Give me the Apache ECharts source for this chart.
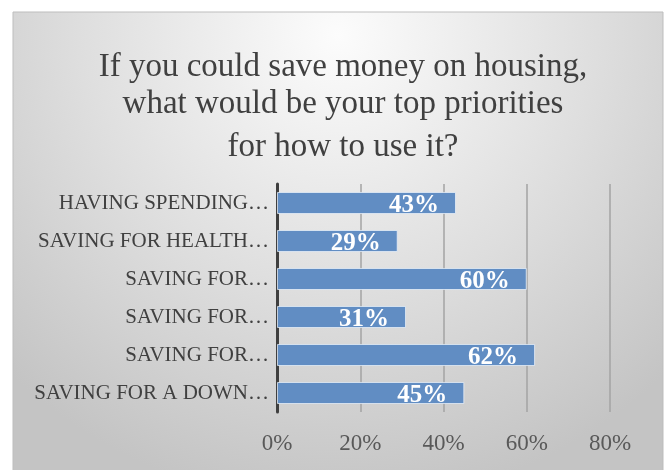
<!DOCTYPE html>
<html>
<head>
<meta charset="utf-8">
<style>
  html, body { margin: 0; padding: 0; background: #ffffff; }
  #chart { width: 667px; height: 470px; }
</style>
<script src="https://cdn.jsdelivr.net/npm/echarts@6/dist/echarts.min.js"></script>
</head>
<body>
<div id="chart"></div>
<script>
// Survey answers, listed top to bottom
const categories = [
  'HAVING SPENDING…',
  'SAVING FOR HEALTH…',
  'SAVING FOR…',
  'SAVING FOR…',
  'SAVING FOR…',
  'SAVING FOR A DOWN…'
];
// Share of respondents choosing each priority (%)
const shares = [43, 29, 60, 31, 62, 45];
// Value axis tick range (%)
const axisMin = 0;
const axisMax = 80;
const axisStep = 20;

const titleLines = [
  'If you could save money on housing,',
  'what would be your top priorities',
  'for how to use it?'
];

const serif = '"Liberation Serif", "DejaVu Serif", serif';
const chart = echarts.init(document.getElementById('chart'), null, { renderer: 'canvas' });

const titleTops = [46, 83, 126];

chart.setOption({
  backgroundColor: '#ffffff',
  animation: false,
  graphic: [{
    type: 'rect',
    z: -10,
    silent: true,
    shape: { x: 13, y: 12, width: 650, height: 470 },
    style: {
      fill: {
        type: 'radial', x: 0.5, y: 0.05, r: 1.0,
        colorStops: [
          { offset: 0, color: '#fcfcfc' },
          { offset: 0.55, color: '#dedede' },
          { offset: 1, color: '#c4c4c4' }
        ]
      },
      stroke: '#bdbdbd',
      lineWidth: 1
    }
  }],
  title: titleLines.map((t, i) => ({
    text: t,
    left: 338,
    textAlign: 'center',
    top: titleTops[i],
    textStyle: {
      fontFamily: serif,
      fontSize: 33,
      fontWeight: 'normal',
      color: '#404040'
    }
  })),
  grid: {
    left: 277,
    right: 57,
    top: 184,
    bottom: 58,
    containLabel: false
  },
  xAxis: {
    type: 'value',
    min: axisMin,
    max: axisMax,
    interval: axisStep,
    axisLine: { show: false },
    axisTick: { show: false },
    axisLabel: {
      formatter: '{value}%',
      fontFamily: serif,
      fontSize: 23,
      color: '#595959',
      margin: 20
    },
    splitLine: {
      show: true,
      lineStyle: { color: '#a3a3a3', width: 1.5 }
    }
  },
  yAxis: {
    type: 'category',
    data: categories,
    inverse: true,
    axisLine: { show: true, lineStyle: { color: '#3f3f3f', width: 3 } },
    axisTick: { show: false },
    axisLabel: {
      fontFamily: serif,
      fontSize: 21,
      color: '#404040',
      margin: 8,
      interval: 0
    },
    splitLine: { show: false }
  },
  series: [{
    type: 'bar',
    data: shares,
    barCategoryGap: '42%',
    itemStyle: {
      color: '#618dc3',
      borderColor: 'rgba(235,242,250,0.75)',
      borderWidth: 1
    },
    label: {
      show: true,
      position: 'insideRight',
      distance: 17,
      offset: [0, 3],
      formatter: '{c}%',
      fontFamily: serif,
      fontSize: 25,
      fontWeight: 'bold',
      color: '#ffffff'
    }
  }]
});
</script>
</body>
</html>
